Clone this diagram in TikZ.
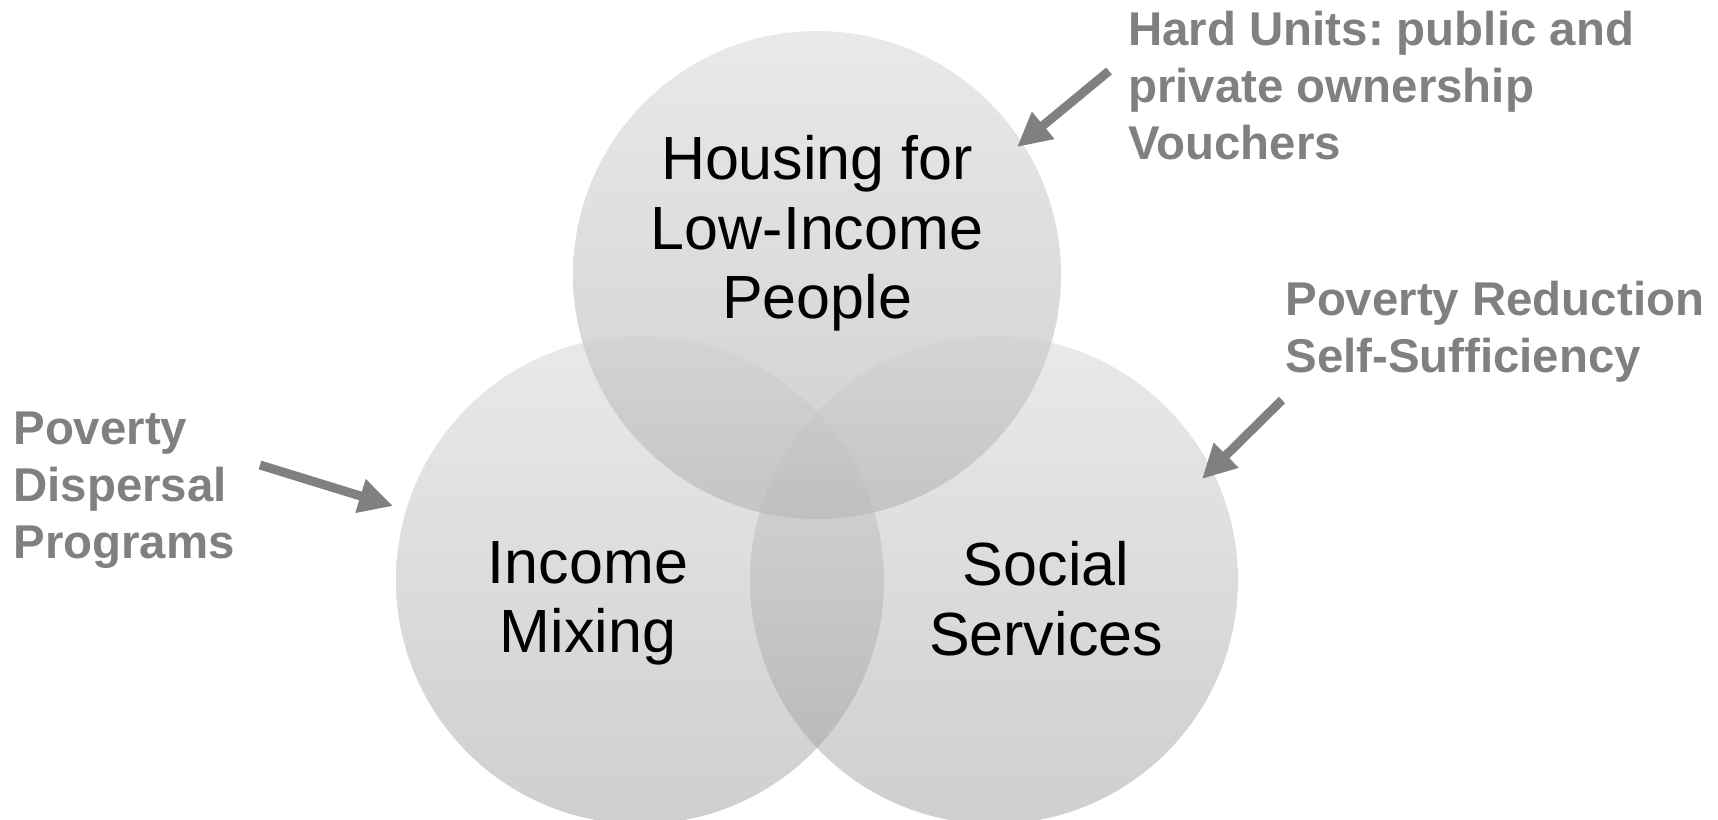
\documentclass[tikz,border=0pt]{standalone}
\usepackage{fontspec}
\setmainfont{Liberation Sans}
\usetikzlibrary{arrows.meta}
\frenchspacing

\tikzset{
  venn/.style={circle,minimum size=244pt,inner sep=0pt,outer sep=0pt,
    top color=gray!38,bottom color=gray!84,fill opacity=0.45},
  big/.style={font=\fontsize{30.5}{34.8}\selectfont,align=center,inner sep=0pt,anchor=north},
  side/.style={font=\fontsize{23.7}{28.5}\selectfont\bfseries,text=gray,
    align=left,inner sep=0pt,anchor=north west},
  pointer/.style={draw=gray,line width=4.5pt,-{Triangle[width=16.5pt,length=17pt]}}
}

\begin{document}
\begin{tikzpicture}[x=0.5pt,y=-0.5pt]
 \useasboundingbox (0,0) rectangle (1718,819);
 % the three sets
 \node[venn] (housing) at (817,275) {};
 \node[venn] (mixing) at (640,580) {};
 \node[venn] (services) at (994,580) {};
 \node[big] (htext) at (817,135) {Housing for\\Low-Income\\People};
 \node[big] (mtext) at (588,541) {Income\\Mixing};
 \node[big] (stext) at (1046,541) {Social\\Services};
 % notes and their arrows
 \node[side] (units) at (1128,11) {Hard Units: public and\\private ownership\\Vouchers};
 \node[side] (reduce) at (1285,281) {Poverty Reduction\\Self-Sufficiency};
 \node[side] (disperse) at (13,411) {Poverty\\Dispersal\\Programs};
 \coordinate (u0) at (1109,71);  \coordinate (u1) at (1017,147);
 \coordinate (r0) at (1282,400); \coordinate (r1) at (1202,479);
 \coordinate (d0) at (260,465);  \coordinate (d1) at (393,506);
 \draw[pointer] (u0) -- (u1);
 \draw[pointer] (r0) -- (r1);
 \draw[pointer] (d0) -- (d1);
\end{tikzpicture}
\end{document}
